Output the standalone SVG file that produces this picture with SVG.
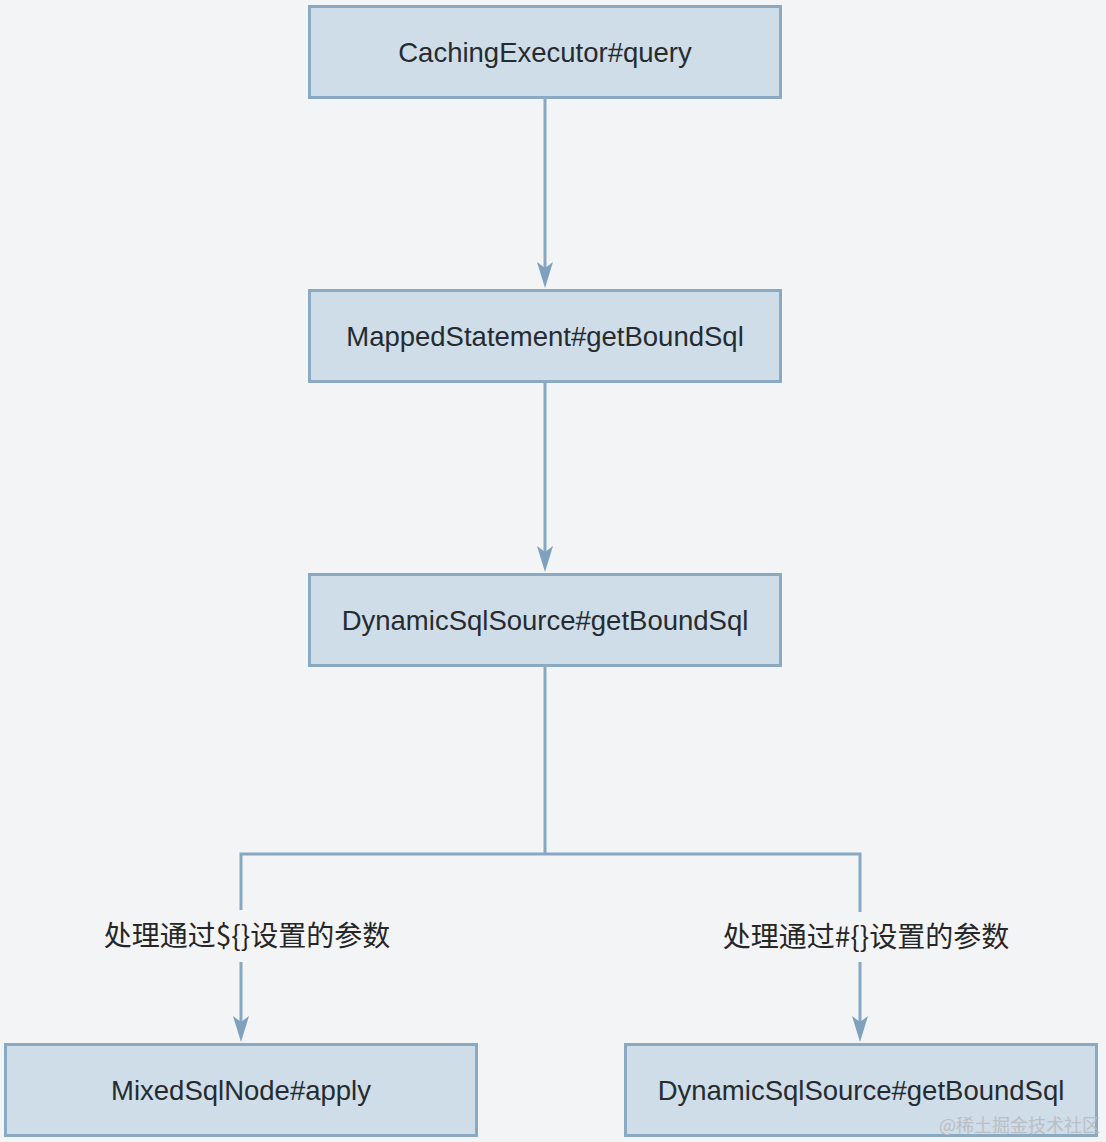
<svg xmlns="http://www.w3.org/2000/svg" width="1106" height="1142" viewBox="0 0 1106 1142">
<style>
.box{fill:#cfdde8;stroke:#8aa9c3;stroke-width:3}
.t{font-family:"Liberation Sans","Noto Sans",sans-serif;font-size:27.5px;fill:#262b30;text-anchor:middle}
.lbl{font-family:"Noto Sans CJK SC","Liberation Sans",sans-serif;font-size:28px;fill:#262626;text-anchor:middle}
.c{fill:none;stroke:#87a7c2;stroke-width:3}
.ah{fill:#7fa1bd}
</style>
<rect width="1106" height="1142" fill="#f3f4f6"/>
<g id="connectors">
<path class="c" d="M545,97 V268"/>
<path class="ah" d="M537,262 L545,268 L553,262 L545,288 Z"/>
<path class="c" d="M545,381 V552"/>
<path class="ah" d="M537,546 L545,552 L553,546 L545,572 Z"/>
<path class="c" d="M545,665 V854 M241,910 V854 H860 V912"/>
<path class="c" d="M241,962 V1022"/>
<path class="ah" d="M233,1016 L241,1022 L249,1016 L241,1042 Z"/>
<path class="c" d="M860,962 V1022"/>
<path class="ah" d="M852,1016 L860,1022 L868,1016 L860,1042 Z"/>
<text class="lbl" x="247" y="946">处理通过${}设置的参数</text>
<text class="lbl" x="866" y="947">处理通过#{}设置的参数</text>
</g>
<g id="n1">
<rect class="box" x="309.5" y="6.5" width="471" height="91"/>
<text class="t" x="545" y="62">CachingExecutor#query</text>
</g>
<g id="n2">
<rect class="box" x="309.5" y="290.5" width="471" height="91"/>
<text class="t" x="545" y="346">MappedStatement#getBoundSql</text>
</g>
<g id="n3">
<rect class="box" x="309.5" y="574.5" width="471" height="91"/>
<text class="t" x="545" y="630">DynamicSqlSource#getBoundSql</text>
</g>
<g id="n4">
<rect class="box" x="5.5" y="1044.5" width="471" height="91"/>
<text class="t" x="241" y="1100">MixedSqlNode#apply</text>
</g>
<g id="n5">
<rect class="box" x="625.5" y="1044.5" width="471" height="91"/>
<text class="t" x="861" y="1100">DynamicSqlSource#getBoundSql</text>
</g>
<text x="1100" y="1132" text-anchor="end" font-family="'Noto Sans CJK SC',sans-serif" font-size="18" fill="#b8bcc2" opacity="0.9">@稀土掘金技术社区</text>
</svg>
